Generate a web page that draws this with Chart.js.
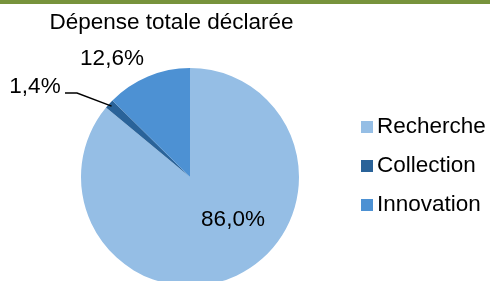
<!DOCTYPE html>
<html>
<head>
<meta charset="utf-8">
<script src="https://cdn.jsdelivr.net/npm/chart.js@4/dist/chart.umd.min.js"></script>
<style>
  html, body { margin: 0; padding: 0; background: #fff; overflow: hidden; }
  #topbar { position: absolute; left: 0; top: 0; width: 490px; height: 4px; background: #77933c; }
  #wrap { position: absolute; left: 0; top: 0; width: 490px; height: 300px; }
</style>
</head>
<body>
<div id="wrap"><canvas id="pie" width="490" height="300"></canvas></div>
<div id="topbar"></div>
<script>
// ---- data ----
const categories = ['Recherche', 'Collection', 'Innovation'];
const shares = [86.0, 1.4, 12.6];
const sliceColors = ['#95bee5', '#2a6399', '#4d91d3'];
const chartTitle = 'Dépense totale déclarée';

const FONT = "22.5px 'Liberation Sans', Arial, sans-serif";
const fmt = v => v.toFixed(1).replace('.', ',') + '%';

// label anchors (canvas px) for each slice value
const labelPos = [
  { x: 233, y: 220 },
  { x: 35, y: 87 },
  { x: 112, y: 59 },
];

const overlay = {
  id: 'overlay',
  afterDraw(chart) {
    const ctx = chart.ctx;
    ctx.save();
    ctx.font = FONT;
    ctx.fillStyle = '#000';
    ctx.textBaseline = 'middle';

    // title
    ctx.textAlign = 'center';
    ctx.fillText(chartTitle, 171.5, 23);

    // data labels
    shares.forEach((v, i) => ctx.fillText(fmt(v), labelPos[i].x, labelPos[i].y));

    // leader line for the small slice
    const arc = chart.getDatasetMeta(0).data[1];
    const mid = (arc.startAngle + arc.endAngle) / 2;
    const ex = arc.x + Math.cos(mid) * arc.outerRadius * 0.97;
    const ey = arc.y + Math.sin(mid) * arc.outerRadius * 0.97;
    ctx.strokeStyle = '#000';
    ctx.lineWidth = 1.4;
    ctx.beginPath();
    ctx.moveTo(65, 93);
    ctx.lineTo(77, 93);
    ctx.lineTo(ex, ey);
    ctx.stroke();

    // legend
    ctx.textAlign = 'left';
    categories.forEach((name, i) => {
      const y = 127 + i * 39;
      ctx.fillStyle = sliceColors[i];
      ctx.fillRect(361, y - 6, 12, 12);
      ctx.fillStyle = '#000';
      ctx.fillText(name, 377, y);
    });
    ctx.restore();
  }
};

new Chart(document.getElementById('pie'), {
  type: 'pie',
  data: {
    labels: categories,
    datasets: [{
      data: shares,
      backgroundColor: sliceColors,
      borderWidth: 0,
      hoverOffset: 0,
    }]
  },
  options: {
    responsive: false,
    animation: false,
    rotation: 0,
    layout: { padding: { left: 81, top: 68, right: 191, bottom: 14 } },
    plugins: {
      legend: { display: false },
      title: { display: false },
      tooltip: { enabled: false },
    }
  },
  plugins: [overlay]
});
</script>
</body>
</html>
